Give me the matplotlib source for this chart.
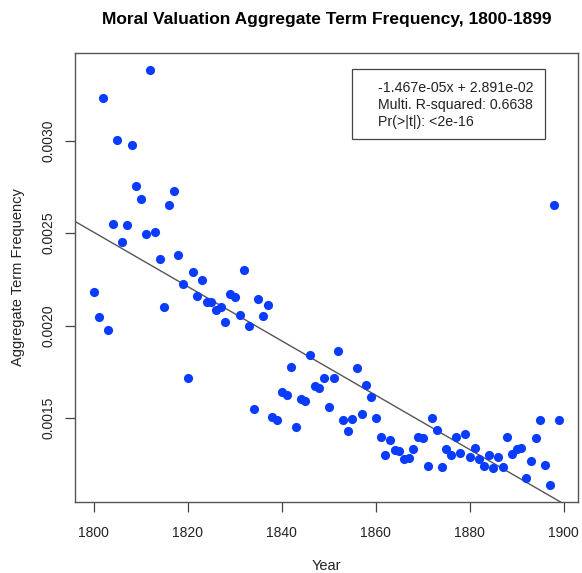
import matplotlib
matplotlib.use("Agg")
import matplotlib.pyplot as plt
from matplotlib.patches import Rectangle
import numpy as np

plt.rcParams["font.family"] = ["Liberation Sans", "DejaVu Sans"]

years = np.arange(1800, 1900)
freq = [
    0.002182, 0.002044, 0.003228, 0.001977, 0.002549, 0.003005, 0.002452, 0.002545, 0.002978, 0.002754,
    0.002682, 0.002495, 0.003383, 0.002505, 0.002358, 0.002098, 0.002653, 0.002729, 0.002383, 0.002227,
    0.001716, 0.002290, 0.002159, 0.002245, 0.002128, 0.002126, 0.002083, 0.002098, 0.002018, 0.002171,
    0.002157, 0.002058, 0.002300, 0.002000, 0.001550, 0.002142, 0.002052, 0.002112, 0.001506, 0.001491,
    0.001639, 0.001626, 0.001779, 0.001452, 0.001603, 0.001592, 0.001839, 0.001675, 0.001664, 0.001715,
    0.001561, 0.001715, 0.001862, 0.001488, 0.001432, 0.001493, 0.001769, 0.001522, 0.001677, 0.001614,
    0.001502, 0.001396, 0.001300, 0.001380, 0.001330, 0.001324, 0.001278, 0.001286, 0.001332, 0.001398,
    0.001393, 0.001240, 0.001499, 0.001434, 0.001235, 0.001332, 0.001300, 0.001398, 0.001312, 0.001413,
    0.001292, 0.001339, 0.001278, 0.001240, 0.001300, 0.001232, 0.001288, 0.001238, 0.001400, 0.001305,
    0.001333, 0.001337, 0.001178, 0.001269, 0.001394, 0.001488, 0.001249, 0.001137, 0.002650, 0.001488,
]

# fitted model reported in the legend
slope = -1.467e-05
intercept = 2.891e-02
legend_lines = ["-1.467e-05x + 2.891e-02",
                "Multi. R-squared: 0.6638",
                "Pr(>|t|): <2e-16"]

xticks = [1800, 1820, 1840, 1860, 1880, 1900]
yticks = [0.0015, 0.0020, 0.0025, 0.0030]

fig = plt.figure(figsize=(5.82, 5.73), dpi=100)
ax = fig.add_axes([0.1294, 0.1239, 0.8632, 0.7836])

ax.plot(years, freq, "o", color="#0a3cff", markersize=6.6, markeredgewidth=0, zorder=3)

# R-style 4% padding around the data range
xr = years.max() - years.min()
yr = max(freq) - min(freq)
ax.set_xlim(years.min() - 0.04 * xr, years.max() + 0.04 * xr)
ax.set_ylim(min(freq) - 0.04 * yr, max(freq) + 0.04 * yr)

xl = np.array(ax.get_xlim())
ax.plot(xl, intercept + slope * xl, color="#555555", lw=1.0, zorder=2)

ax.set_xticks(xticks)
ax.set_xticklabels([str(t) for t in xticks])
ax.set_yticks(yticks)
ax.set_yticklabels(["%.4f" % t for t in yticks], rotation=90, va="center")
ax.tick_params(direction="out", length=7, width=0.9, colors="#444444",
               labelcolor="#222222", labelsize=10)
ax.tick_params(axis="x", pad=10)
ax.tick_params(axis="y", pad=7)
for s in ax.spines.values():
    s.set_color("#555555")
    s.set_linewidth(1.0)

ax.set_xlabel("Year", fontsize=10.5, color="#222222", labelpad=14)
ax.set_ylabel("Aggregate Term Frequency", fontsize=10.5, color="#222222", labelpad=12)
ax.set_title("Moral Valuation Aggregate Term Frequency, 1800-1899",
             fontsize=12.5, fontweight="bold", pad=21)

ax.add_patch(Rectangle((0.5514, 0.8085), 0.3829, 0.1559, transform=ax.transAxes,
                       fill=False, ec="#444444", lw=0.9, zorder=4))
for i, line in enumerate(legend_lines):
    ax.text(0.6019, 0.9227 - i * 0.0379, line, transform=ax.transAxes,
            fontsize=10.2, va="center", ha="left", color="#222222", zorder=5)

fig.savefig("out.png", dpi=100)
